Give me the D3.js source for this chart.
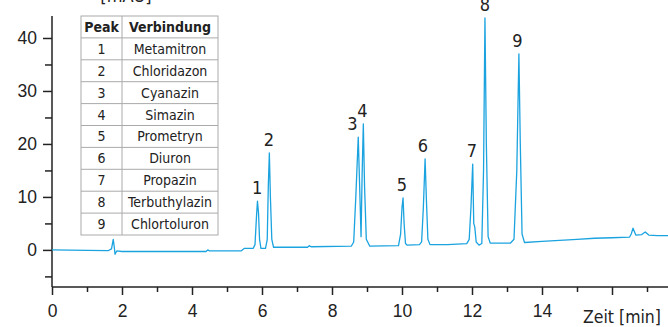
<!DOCTYPE html>
<html>
<head>
<meta charset="utf-8">
<script src="https://cdn.jsdelivr.net/npm/d3@7"></script>
<style>
  body { margin: 0; background: #fff; }
  svg { display: block; font-family: "Liberation Sans Narrow", "DejaVu Sans Condensed", sans-serif; }
</style>
</head>
<body>
<div id="chart"></div>
<script>
// Chromatogramm: Zeit [min] und Signal
const times = [0, 0.5, 1.0, 1.6, 1.7, 1.75, 1.78, 1.8, 1.85, 2.0, 3.0, 4.4, 4.45, 4.5, 5.4, 5.5, 5.75,
  5.8, 5.84, 5.87, 5.9, 5.93, 5.97, 6.1,
  6.15, 6.18, 6.21, 6.24, 6.28, 6.33,
  7.3, 7.35, 7.4, 8.55,
  8.62, 8.68, 8.75, 8.79, 8.83, 8.86, 8.895, 8.93, 8.98, 9.08,
  9.9, 9.96, 10.0, 10.03, 10.06, 10.1, 10.15, 10.5, 10.56,
  10.61, 10.66, 10.7, 10.74, 10.8, 11.3, 11.85, 11.92,
  11.97, 12.02, 12.05, 12.08, 12.12, 12.2,
  12.28, 12.33, 12.37, 12.41, 12.46, 12.52, 13.1, 13.2,
  13.28, 13.34, 13.38, 13.43, 13.5, 14.0, 14.5, 15.0, 15.5, 16.0, 16.5,
  16.55, 16.6, 16.68, 16.85, 16.95, 17.05, 17.3, 17.6];
const signal = [0, -0.05, -0.1, -0.15, 0.2, 2.0, 0.5, -0.8, -0.2, -0.3, -0.3, -0.3, 0.0, -0.2, -0.2, 0.3, 0.3,
  1.0, 6.0, 9.2, 7.0, 2.0, 0.3, 0.3,
  2.0, 12.0, 18.3, 10.0, 2.0, 0.5,
  0.5, 0.8, 0.6, 0.7,
  1.5, 10.0, 21.3, 12.0, 2.5, 14.0, 23.8, 12.0, 2.0, 0.7,
  0.8, 3.0, 8.0, 9.8, 5.0, 1.2, 0.9, 1.0, 1.5,
  8.0, 17.2, 9.0, 2.0, 1.0, 1.0, 1.2, 2.0,
  8.0, 16.2, 5.0, 4.3, 1.5, 0.9,
  1.2, 15.0, 43.8, 20.0, 2.5, 1.3, 1.3, 2.0,
  15.0, 37.0, 20.0, 3.0, 1.4, 1.6, 1.8, 2.0, 2.2, 2.3, 2.4,
  3.0, 4.1, 2.8, 2.9, 3.4, 2.8, 2.7, 2.7];

const peakIds = [1, 2, 3, 4, 5, 6, 7, 8, 9];
const peakTimes = [5.86, 6.2, 8.58, 8.87, 10.0, 10.6, 12.0, 12.37, 13.3];
const peakHeights = [9.2, 18.3, 21.3, 23.8, 9.8, 17.2, 16.2, 43.8, 37.0];
const compounds = ["Metamitron", "Chloridazon", "Cyanazin", "Simazin", "Prometryn",
  "Diuron", "Propazin", "Terbuthylazin", "Chlortoluron"];

const xMajor = [0, 2, 4, 6, 8, 10, 12, 14, 16];
const xLabels = [0, 2, 4, 6, 8, 10, 12, 14];
const xMinor = [1, 3, 5, 7, 9, 11, 13, 15, 17];
const yMajor = [0, 10, 20, 30, 40];
const yMinor = [-5, 5, 15, 25, 35];

const W = 668, H = 327;
const lineColor = "#1ba3e0";
const axisColor = "#222";

const svg = d3.select("#chart").append("svg")
  .attr("width", W)
  .attr("height", H);

const x = d3.scaleLinear().domain([0, 17.6]).range([52, 668]);
const y = d3.scaleLinear().domain([-7, 44.15]).range([287, 16]);

// Achsen
const xAxis = svg.append("g").attr("transform", `translate(0,${y(-7)})`)
  .call(d3.axisBottom(x).tickValues(xMajor).tickSize(8).tickFormat(d => xLabels.includes(d) ? d : ""));
xAxis.select(".domain").attr("d", `M${x(0)},0H${W}`);
xAxis.selectAll(".tick text").attr("dy", "1.1em").attr("font-size", 17.5);

svg.append("g").attr("transform", `translate(0,${y(-7)})`)
  .call(d3.axisBottom(x).tickValues(xMinor).tickSize(5).tickFormat(""))
  .select(".domain").remove();

const yAxis = svg.append("g").attr("transform", `translate(${x(0)},0)`)
  .call(d3.axisLeft(y).tickValues(yMajor).tickSize(9).tickPadding(6));
yAxis.select(".domain").attr("d", `M0,${y(-7)}V${y(44.15)}`);
yAxis.selectAll(".tick text").attr("font-size", 17.5);

svg.append("g").attr("transform", `translate(${x(0)},0)`)
  .call(d3.axisLeft(y).tickValues(yMinor).tickSize(7).tickFormat(""))
  .select(".domain").remove();

svg.selectAll(".domain, .tick line").attr("stroke", axisColor).attr("stroke-width", 1.5);
svg.selectAll(".tick text").attr("fill", axisColor).attr("font-family", null);

svg.append("text")
  .attr("x", 126).attr("y", 2)
  .attr("text-anchor", "middle")
  .attr("font-size", 18)
  .attr("fill", axisColor)
  .text("[mAU]");

svg.append("text")
  .attr("x", 661).attr("y", 323)
  .attr("text-anchor", "end")
  .attr("font-size", 17.5)
  .attr("fill", axisColor)
  .text("Zeit [min]");

// Kurve
const pts = times.map((t, i) => [t, signal[i]]);
svg.append("path")
  .datum(pts)
  .attr("fill", "none")
  .attr("stroke", lineColor)
  .attr("stroke-width", 1.3)
  .attr("stroke-linejoin", "round")
  .attr("d", d3.line().x(d => x(d[0])).y(d => y(d[1])));

svg.append("g").selectAll("text")
  .data(peakIds)
  .join("text")
  .attr("x", (d, i) => x(peakTimes[i]))
  .attr("y", (d, i) => y(peakHeights[i]) - 7)
  .attr("text-anchor", "middle")
  .attr("font-size", 18)
  .attr("fill", axisColor)
  .text(d => d);

// Tabelle
const tx = 81, tw = 137, col = 122, ty = 16, rh = 21.9;
const table = svg.append("g");
const rows = [["Peak", "Verbindung"]].concat(peakIds.map((p, i) => [p, compounds[i]]));

table.append("rect")
  .attr("x", tx).attr("y", ty)
  .attr("width", tw).attr("height", rh * rows.length)
  .attr("fill", "#fff")
  .attr("stroke", "#aaa");

table.selectAll("line.row")
  .data(d3.range(1, rows.length))
  .join("line")
  .attr("x1", tx).attr("x2", tx + tw)
  .attr("y1", d => ty + d * rh).attr("y2", d => ty + d * rh)
  .attr("stroke", "#aaa");

table.append("line")
  .attr("x1", col).attr("x2", col)
  .attr("y1", ty).attr("y2", ty + rh * rows.length)
  .attr("stroke", "#aaa");

const rowG = table.selectAll("g.r")
  .data(rows)
  .join("g")
  .attr("transform", (d, i) => `translate(0,${ty + i * rh + rh / 2 + 5})`);

rowG.append("text")
  .attr("x", (tx + col) / 2)
  .attr("text-anchor", "middle")
  .attr("font-size", 14)
  .attr("font-weight", (d, i) => i === 0 ? "bold" : null)
  .attr("fill", axisColor)
  .text(d => d[0]);

rowG.append("text")
  .attr("x", (d, i) => i === 0 ? 129 : (col + tx + tw) / 2)
  .attr("text-anchor", (d, i) => i === 0 ? "start" : "middle")
  .attr("font-size", 14)
  .attr("font-weight", (d, i) => i === 0 ? "bold" : null)
  .attr("fill", axisColor)
  .text(d => d[1]);
</script>
</body>
</html>
